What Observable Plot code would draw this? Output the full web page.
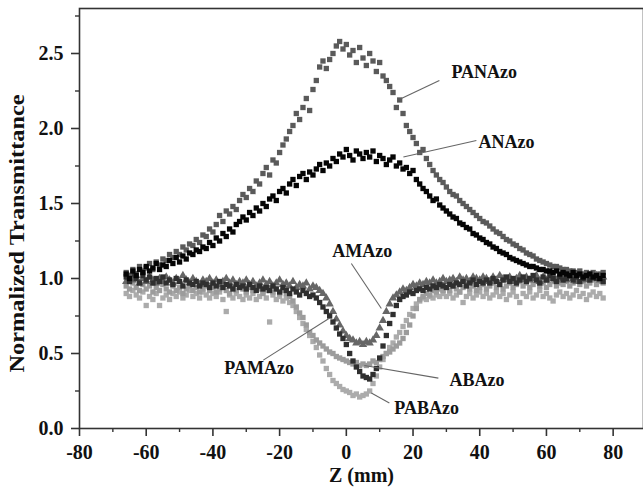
<!DOCTYPE html>
<html>
<head>
<meta charset="utf-8">
<script src="https://cdn.jsdelivr.net/npm/d3@7"></script>
<script src="https://cdn.jsdelivr.net/npm/@observablehq/plot@0.6"></script>
<style>
  html, body { margin: 0; padding: 0; background: #fff; }
</style>
</head>
<body>
<div id="chart"></div>
<script>
// Scan positions (mm)
const z = [
  -66,-65,-64,-63,-62,-61,-60,-59,-58,-57,-56,-55,
  -54,-53,-52,-51,-50,-49,-48,-47,-46,-45,-44,-43,
  -42,-41,-40,-39,-38,-37,-36,-35,-34,-33,-32,-31,
  -30,-29,-28,-27,-26,-25,-24,-23,-22,-21,-20,-19,
  -18,-17,-16,-15,-14,-13,-12,-11,-10,-9,-8,-7,
  -6,-5,-4,-3,-2,-1,0,1,2,3,4,5,
  6,7,8,9,10,11,12,13,14,15,16,17,
  18,19,20,21,22,23,24,25,26,27,28,29,
  30,31,32,33,34,35,36,37,38,39,40,41,
  42,43,44,45,46,47,48,49,50,51,52,53,
  54,55,56,57,58,59,60,61,62,63,64,65,
  66,67,68,69,70,71,72,73,74,75,76,77
];

const PANAzo = [
  1.04,1.02,1.06,1.03,1.08,1.05,1.07,1.10,1.06,1.11,1.09,1.13,
  1.12,1.16,1.14,1.18,1.16,1.21,1.19,1.23,1.22,1.26,1.24,1.29,
  1.28,1.33,1.31,1.36,1.42,1.38,1.45,1.43,1.48,1.46,1.52,1.56,
  1.54,1.60,1.58,1.65,1.63,1.70,1.74,1.69,1.79,1.77,1.84,1.89,
  1.93,1.98,2.02,2.10,2.06,2.14,2.20,2.12,2.26,2.32,2.41,2.45,
  2.40,2.46,2.50,2.55,2.58,2.53,2.56,2.49,2.52,2.44,2.54,2.47,
  2.42,2.50,2.45,2.38,2.44,2.35,2.32,2.28,2.24,2.14,2.19,2.10,
  2.02,1.98,1.94,1.90,1.84,1.86,1.80,1.76,1.72,1.69,1.66,1.64,
  1.61,1.58,1.56,1.55,1.52,1.50,1.48,1.46,1.44,1.42,1.40,1.38,
  1.37,1.35,1.33,1.31,1.30,1.28,1.26,1.25,1.23,1.22,1.20,1.19,
  1.17,1.16,1.15,1.13,1.12,1.11,1.10,1.09,1.08,1.08,1.07,1.06,
  1.06,1.05,1.05,1.04,1.05,1.03,1.04,1.03,1.04,1.02,1.03,1.04
];

const ANAzo = [
  1.03,1.00,1.05,1.02,1.06,1.04,1.08,1.05,1.07,1.10,1.06,1.09,
  1.08,1.12,1.10,1.14,1.11,1.15,1.13,1.17,1.16,1.19,1.18,1.21,
  1.20,1.24,1.22,1.27,1.25,1.30,1.28,1.33,1.31,1.36,1.38,1.41,
  1.39,1.44,1.42,1.47,1.45,1.50,1.48,1.53,1.55,1.52,1.58,1.60,
  1.57,1.63,1.66,1.62,1.68,1.70,1.66,1.71,1.69,1.73,1.76,1.72,
  1.77,1.75,1.80,1.78,1.83,1.81,1.86,1.82,1.79,1.85,1.83,1.80,
  1.84,1.81,1.85,1.78,1.82,1.80,1.76,1.79,1.81,1.75,1.77,1.73,
  1.74,1.70,1.72,1.66,1.63,1.60,1.58,1.55,1.52,1.53,1.49,1.47,
  1.45,1.43,1.41,1.40,1.37,1.36,1.34,1.33,1.30,1.29,1.27,1.26,
  1.24,1.23,1.21,1.20,1.18,1.17,1.16,1.14,1.13,1.12,1.11,1.10,
  1.09,1.08,1.08,1.07,1.06,1.06,1.05,1.05,1.04,1.05,1.03,1.04,
  1.03,1.02,1.04,1.02,1.03,1.01,1.02,1.03,1.01,1.02,1.00,1.02
];

const AMAzo = [
  0.98,1.01,0.99,1.02,0.97,1.00,0.98,1.01,0.99,0.97,1.00,0.98,
  1.01,0.99,0.97,1.00,0.98,1.02,0.99,0.97,1.00,0.98,0.96,0.99,
  0.98,1.00,0.97,0.99,0.96,0.98,1.00,0.97,0.99,0.96,0.98,0.97,
  0.99,0.96,0.98,0.95,0.97,0.99,0.96,0.98,0.95,0.97,0.99,0.96,
  0.97,0.95,0.98,0.94,0.96,0.95,0.97,0.93,0.95,0.94,0.92,0.90,
  0.87,0.83,0.78,0.73,0.69,0.65,0.62,0.60,0.59,0.57,0.58,0.56,
  0.58,0.57,0.59,0.62,0.67,0.72,0.78,0.83,0.87,0.89,0.91,0.93,
  0.92,0.94,0.96,0.95,0.97,0.96,0.98,0.97,0.99,0.97,0.98,1.00,
  0.98,0.99,1.00,0.98,1.01,0.99,1.00,0.98,1.01,1.00,0.99,1.01,
  1.00,0.98,1.01,0.99,1.02,1.00,0.99,1.01,0.98,1.00,1.02,0.99,
  1.01,0.99,1.00,1.02,0.98,1.01,0.99,1.00,1.02,0.99,1.01,1.00,
  0.99,1.01,1.00,0.98,1.02,1.00,0.99,1.01,1.00,1.02,0.99,1.01
];

const PAMAzo = [
  1.01,0.98,1.03,1.00,0.97,1.02,0.99,1.01,0.97,1.00,0.98,1.01,
  0.97,0.99,0.96,1.00,0.98,0.95,0.99,0.97,0.96,0.98,0.95,0.97,
  0.96,0.94,0.97,0.95,0.98,0.94,0.96,0.95,0.93,0.96,0.94,0.95,
  0.93,0.96,0.94,0.92,0.95,0.93,0.94,0.92,0.95,0.93,0.91,0.94,
  0.92,0.90,0.93,0.91,0.89,0.92,0.90,0.88,0.89,0.87,0.84,0.81,
  0.78,0.75,0.71,0.67,0.63,0.60,0.56,0.50,0.45,0.41,0.38,0.35,
  0.34,0.33,0.36,0.40,0.47,0.55,0.62,0.70,0.76,0.82,0.86,0.88,
  0.89,0.91,0.90,0.92,0.93,0.92,0.94,0.93,0.95,0.94,0.96,0.95,
  0.94,0.96,0.95,0.97,0.96,0.98,0.95,0.97,0.99,0.96,0.98,0.97,
  0.99,0.97,1.00,0.98,0.96,0.99,1.01,0.98,1.00,0.97,0.99,1.01,
  0.98,1.00,1.02,0.99,0.97,1.01,0.99,1.02,1.00,0.98,1.01,0.99,
  1.00,1.02,0.99,1.01,0.98,1.00,1.03,0.99,1.01,1.00,1.02,0.98
];

const ABAzo = [
  0.95,0.93,0.97,0.94,0.92,0.96,0.93,0.95,0.91,0.94,0.92,0.96,
  0.93,0.91,0.95,0.92,0.94,0.90,0.93,0.95,0.92,0.94,0.91,0.93,
  0.95,0.92,0.94,0.91,0.93,0.95,0.92,0.90,0.94,0.92,0.95,0.93,
  0.91,0.94,0.92,0.95,0.93,0.90,0.92,0.94,0.91,0.93,0.90,0.92,
  0.90,0.88,0.85,0.81,0.77,0.74,0.69,0.64,0.62,0.59,0.57,0.55,
  0.53,0.51,0.50,0.48,0.47,0.46,0.45,0.44,0.43,0.44,0.42,0.43,
  0.42,0.43,0.45,0.44,0.46,0.48,0.50,0.51,0.53,0.55,0.57,0.60,
  0.64,0.69,0.75,0.80,0.86,0.88,0.90,0.89,0.92,0.91,0.93,0.92,
  0.94,0.92,0.95,0.93,0.91,0.94,0.96,0.93,0.95,0.92,0.94,0.96,
  0.93,0.95,0.97,0.94,0.96,0.93,0.95,0.97,0.94,0.96,0.98,0.95,
  0.97,0.94,0.96,0.98,0.95,0.97,0.94,0.96,0.98,0.95,0.97,0.96,
  0.98,0.95,0.97,0.99,0.96,0.98,0.95,0.97,0.99,0.96,0.98,0.97
];

const PABAzo = [
  0.90,0.88,0.92,0.89,0.87,0.91,0.82,0.88,0.86,0.90,0.82,0.87,
  0.89,0.86,0.90,0.88,0.91,0.87,0.89,0.92,0.88,0.90,0.87,0.91,
  0.89,0.87,0.90,0.88,0.91,0.86,0.78,0.89,0.87,0.90,0.88,0.86,
  0.89,0.87,0.90,0.86,0.88,0.91,0.87,0.71,0.89,0.86,0.88,0.85,
  0.87,0.84,0.82,0.78,0.74,0.70,0.66,0.62,0.58,0.54,0.49,0.45,
  0.40,0.36,0.32,0.30,0.28,0.26,0.25,0.24,0.22,0.23,0.21,0.22,
  0.23,0.25,0.30,0.35,0.41,0.46,0.50,0.54,0.57,0.61,0.64,0.68,
  0.72,0.76,0.80,0.83,0.85,0.87,0.86,0.88,0.87,0.89,0.88,0.90,
  0.88,0.90,0.87,0.89,0.91,0.84,0.88,0.90,0.87,0.89,0.91,0.88,
  0.90,0.87,0.89,0.91,0.88,0.90,0.86,0.89,0.91,0.88,0.84,0.90,
  0.88,0.91,0.87,0.89,0.92,0.88,0.90,0.87,0.85,0.89,0.91,0.88,
  0.90,0.87,0.89,0.92,0.88,0.90,0.86,0.89,0.91,0.88,0.90,0.87
];

const xTicks = [-80, -60, -40, -20, 0, 20, 40, 60, 80];
const xMinor = [-70, -50, -30, -10, 10, 30, 50, 70];
const yTicks = [0, 0.5, 1.0, 1.5, 2.0, 2.5];
const yMinor = [0.25, 0.75, 1.25, 1.75, 2.25, 2.75];

// Annotation labels with leader lines (data coordinates)
const labelNames = ["PANAzo", "ANAzo", "AMAzo", "PAMAzo", "ABAzo", "PABAzo"];
const labelX = [31.5, 39.6, -4.2, -36.6, 30.9, 14.4];
const labelY = [2.375, 1.91, 1.18, 0.40, 0.32, 0.135];
const leadX1 = [27.9, 39.0, 1.5, -24.9, 27.6, 12.9];
const leadY1 = [2.32, 1.92, 1.10, 0.456, 0.336, 0.17];
const leadX2 = [16.5, 17.1, 10.5, -5.1, 5.4, 7.5];
const leadY2 = [2.20, 1.81, 0.80, 0.735, 0.42, 0.236];

const seriesDefs = [
  {name: "PABAzo", values: PABAzo, color: "#ababab", symbol: "square"},
  {name: "ABAzo",  values: ABAzo,  color: "#9c9c9c", symbol: "square"},
  {name: "AMAzo",  values: AMAzo,  color: "#666666", symbol: "triangle"},
  {name: "PAMAzo", values: PAMAzo, color: "#2f2f2f", symbol: "square"},
  {name: "PANAzo", values: PANAzo, color: "#5a5a5a", symbol: "square"},
  {name: "ANAzo",  values: ANAzo,  color: "#050505", symbol: "square"}
];

const pointMarks = seriesDefs.map(s => {
  const rows = z.map((zz, i) => ({z: zz, t: s.values[i]}));
  return Plot.dot(rows, {
    x: "z", y: "t", symbol: () => s.symbol,
    r: s.symbol === "triangle" ? 3.1 : 3.0,
    fill: s.color, stroke: "none"
  });
});

const annotations = labelNames.map((n, i) => ({
  name: n, x: labelX[i], y: labelY[i],
  x1: leadX1[i], y1: leadY1[i], x2: leadX2[i], y2: leadY2[i]
}));

const font = "'Liberation Serif', 'Times New Roman', Times, serif";

const chart = Plot.plot({
  width: 643,
  height: 494,
  marginLeft: 79,
  marginTop: 8,
  marginBottom: 66,
  marginRight: 0,
  style: {fontFamily: font, fontWeight: "bold", fontSize: "18px", background: "#fff", color: "#111"},
  x: {domain: [-80, 89.1]},
  y: {domain: [0, 2.8]},
  symbol: {type: "identity"},
  marks: [
    ...pointMarks,
    Plot.link(annotations, {x1: "x1", y1: "y1", x2: "x2", y2: "y2", stroke: "#666", strokeWidth: 1.1}),
    Plot.text(annotations, {x: "x", y: "y", text: "name", textAnchor: "start", lineAnchor: "middle",
      fontSize: 18, fontWeight: "bold", fill: "#111"}),
    Plot.frame({stroke: "#333", strokeWidth: 1.6}),
    Plot.axisX({ticks: xTicks, tickSize: 8, tickPadding: 8, tickFormat: d => String(d), fontSize: 20,
      fontWeight: "bold", stroke: "#333", strokeWidth: 1.6, label: null, fill: "#111"}),
    Plot.axisX({ticks: xMinor, tickSize: 4, tickFormat: () => "", stroke: "#333", strokeWidth: 1.4, label: null}),
    Plot.axisY({ticks: yTicks, tickSize: 8, tickPadding: 8, tickFormat: d3.format(".1f"), fontSize: 20,
      fontWeight: "bold", stroke: "#333", strokeWidth: 1.6, label: null, fill: "#111"}),
    Plot.axisY({ticks: yMinor, tickSize: 4, tickFormat: () => "", stroke: "#333", strokeWidth: 1.4, label: null}),
    Plot.text(["Z (mm)"], {frameAnchor: "bottom", dy: 47, text: d => d, fontSize: 20, fontWeight: "bold",
      textAnchor: "middle", lineAnchor: "middle", fill: "#111"}),
    Plot.text(["Normalized Transmittance"], {frameAnchor: "left", dx: -62, dy: 15, rotate: -90, text: d => d,
      fontSize: 20, fontWeight: "bold", textAnchor: "middle", lineAnchor: "middle", fill: "#111",
      className: "ylabel"})
  ]
});

document.getElementById("chart").appendChild(chart);
// stretch the y-axis title to the span it has in the reference
d3.select(chart).selectAll(".ylabel text")
  .attr("textLength", 278)
  .attr("lengthAdjust", "spacingAndGlyphs");
</script>
</body>
</html>
